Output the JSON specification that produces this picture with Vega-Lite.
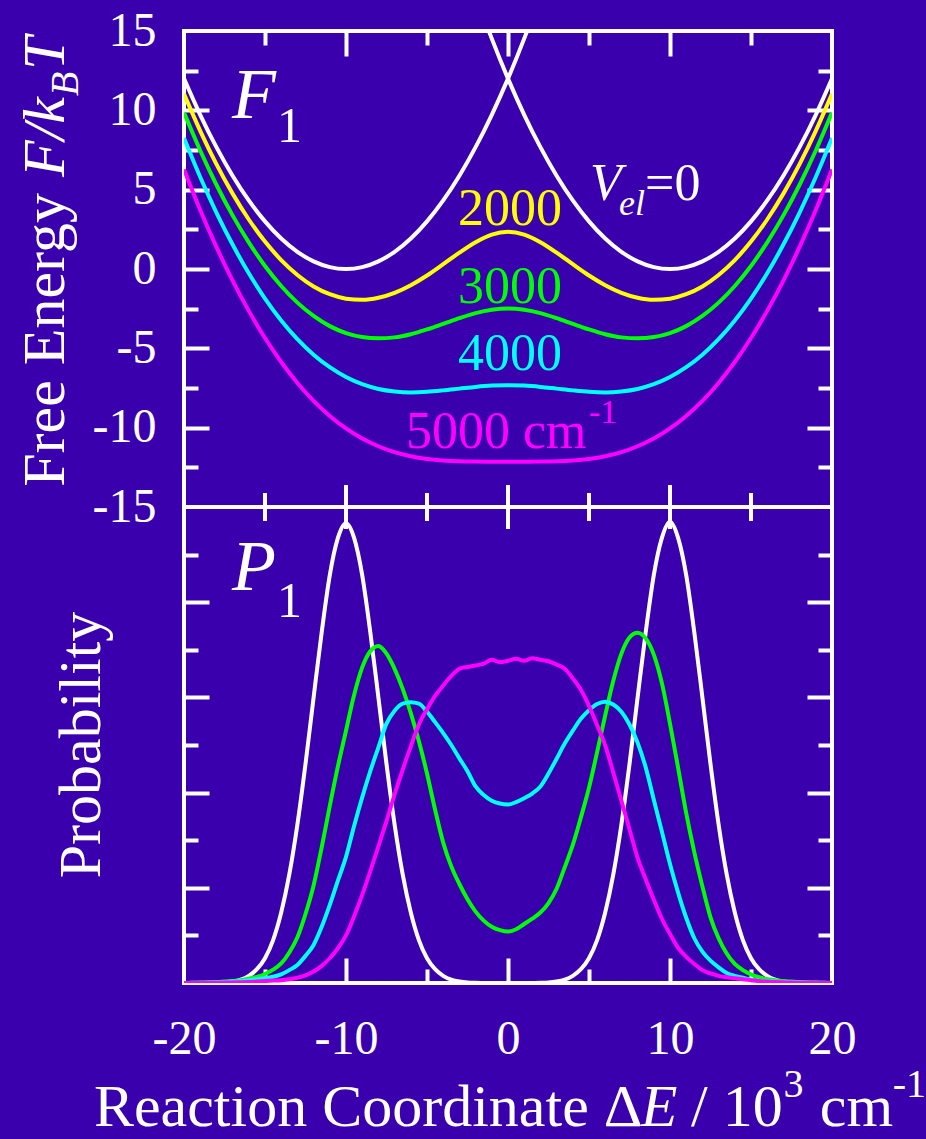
{
"$schema": "https://vega.github.io/schema/vega-lite/v6.json",
"autosize": "none",
"width": 648,
"height": 952,
"padding": {"left": 184, "top": 31, "right": 94, "bottom": 156},
"background": "#3a00ae",
"config": {
  "view": {"stroke": "#ffffff", "strokeWidth": 4},
  "axis": {"domain": false, "grid": false, "labels": false, "title": null, "tickColor": "#ffffff", "tickWidth": 4, "labelFont": "Liberation Serif", "labelFontSize": 48, "labelColor": "#ffffff", "labelFlush": false, "labelOverlap": false, "labelBound": false},
  "text": {"font": "Liberation Serif"}
},
"datasets": {
  "wf": [
    {"b":"a","x":-20,"v":12},{"b":"a","x":-19,"v":9.72},{"b":"a","x":-18,"v":7.68},{"b":"a","x":-17,"v":5.88},{"b":"a","x":-16,"v":4.32},{"b":"a","x":-15,"v":3},{"b":"a","x":-14,"v":1.92},{"b":"a","x":-13,"v":1.08},{"b":"a","x":-12,"v":0.48},{"b":"a","x":-11,"v":0.12},{"b":"a","x":-10,"v":0},{"b":"a","x":-9,"v":0.12},{"b":"a","x":-8,"v":0.48},{"b":"a","x":-7,"v":1.08},{"b":"a","x":-6,"v":1.92},{"b":"a","x":-5,"v":3},{"b":"a","x":-4,"v":4.32},{"b":"a","x":-3,"v":5.88},{"b":"a","x":-2,"v":7.68},{"b":"a","x":-1,"v":9.72},{"b":"a","x":0,"v":12},{"b":"a","x":1,"v":14.52},{"b":"a","x":1.18,"v":15},
    {"b":"b","x":-1.18,"v":15},{"b":"b","x":-1,"v":14.52},{"b":"b","x":0,"v":12},{"b":"b","x":1,"v":9.72},{"b":"b","x":2,"v":7.68},{"b":"b","x":3,"v":5.88},{"b":"b","x":4,"v":4.32},{"b":"b","x":5,"v":3},{"b":"b","x":6,"v":1.92},{"b":"b","x":7,"v":1.08},{"b":"b","x":8,"v":0.48},{"b":"b","x":9,"v":0.12},{"b":"b","x":10,"v":0},{"b":"b","x":11,"v":0.12},{"b":"b","x":12,"v":0.48},{"b":"b","x":13,"v":1.08},{"b":"b","x":14,"v":1.92},{"b":"b","x":15,"v":3},{"b":"b","x":16,"v":4.32},{"b":"b","x":17,"v":5.88},{"b":"b","x":18,"v":7.68},{"b":"b","x":19,"v":9.72},{"b":"b","x":20,"v":12}
  ],
  "cf": [
    {"x":-20,"v2000":11.04,"v3000":9.86,"v4000":8.26,"v5000":6.27},
    {"x":-19,"v2000":8.71,"v3000":7.47,"v4000":5.8,"v5000":3.72},
    {"x":-18,"v2000":6.61,"v3000":5.31,"v4000":3.56,"v5000":1.39},
    {"x":-17,"v2000":4.75,"v3000":3.38,"v4000":1.54,"v5000":-0.73},
    {"x":-16,"v2000":3.12,"v3000":1.68,"v4000":-0.27,"v5000":-2.64},
    {"x":-15,"v2000":1.73,"v3000":0.19,"v4000":-1.86,"v5000":-4.35},
    {"x":-14,"v2000":0.56,"v3000":-1.07,"v4000":-3.24,"v5000":-5.86},
    {"x":-13,"v2000":-0.38,"v3000":-2.12,"v4000":-4.42,"v5000":-7.18},
    {"x":-12,"v2000":-1.1,"v3000":-2.96,"v4000":-5.4,"v5000":-8.31},
    {"x":-11,"v2000":-1.59,"v3000":-3.6,"v4000":-6.19,"v5000":-9.26},
    {"x":-10,"v2000":-1.87,"v3000":-4.04,"v4000":-6.81,"v5000":-10.05},
    {"x":-9,"v2000":-1.94,"v3000":-4.29,"v4000":-7.26,"v5000":-10.68},
    {"x":-8,"v2000":-1.81,"v3000":-4.37,"v4000":-7.56,"v5000":-11.17},
    {"x":-7,"v2000":-1.5,"v3000":-4.31,"v4000":-7.72,"v5000":-11.54},
    {"x":-6,"v2000":-1.02,"v3000":-4.11,"v4000":-7.78,"v5000":-11.8},
    {"x":-5,"v2000":-0.41,"v3000":-3.81,"v4000":-7.74,"v5000":-11.97},
    {"x":-4,"v2000":0.3,"v3000":-3.46,"v4000":-7.65,"v5000":-12.07},
    {"x":-3,"v2000":1.03,"v3000":-3.1,"v4000":-7.54,"v5000":-12.12},
    {"x":-2,"v2000":1.69,"v3000":-2.78,"v4000":-7.43,"v5000":-12.14},
    {"x":-1,"v2000":2.17,"v3000":-2.57,"v4000":-7.35,"v5000":-12.15},
    {"x":0,"v2000":2.34,"v3000":-2.49,"v4000":-7.32,"v5000":-12.15},
    {"x":1,"v2000":2.17,"v3000":-2.57,"v4000":-7.35,"v5000":-12.15},
    {"x":2,"v2000":1.69,"v3000":-2.78,"v4000":-7.43,"v5000":-12.14},
    {"x":3,"v2000":1.03,"v3000":-3.1,"v4000":-7.54,"v5000":-12.12},
    {"x":4,"v2000":0.3,"v3000":-3.46,"v4000":-7.65,"v5000":-12.07},
    {"x":5,"v2000":-0.41,"v3000":-3.81,"v4000":-7.74,"v5000":-11.97},
    {"x":6,"v2000":-1.02,"v3000":-4.11,"v4000":-7.78,"v5000":-11.8},
    {"x":7,"v2000":-1.5,"v3000":-4.31,"v4000":-7.72,"v5000":-11.54},
    {"x":8,"v2000":-1.81,"v3000":-4.37,"v4000":-7.56,"v5000":-11.17},
    {"x":9,"v2000":-1.94,"v3000":-4.29,"v4000":-7.26,"v5000":-10.68},
    {"x":10,"v2000":-1.87,"v3000":-4.04,"v4000":-6.81,"v5000":-10.05},
    {"x":11,"v2000":-1.59,"v3000":-3.6,"v4000":-6.19,"v5000":-9.26},
    {"x":12,"v2000":-1.1,"v3000":-2.96,"v4000":-5.4,"v5000":-8.31},
    {"x":13,"v2000":-0.38,"v3000":-2.12,"v4000":-4.42,"v5000":-7.18},
    {"x":14,"v2000":0.56,"v3000":-1.07,"v4000":-3.24,"v5000":-5.86},
    {"x":15,"v2000":1.73,"v3000":0.19,"v4000":-1.86,"v5000":-4.35},
    {"x":16,"v2000":3.12,"v3000":1.68,"v4000":-0.27,"v5000":-2.64},
    {"x":17,"v2000":4.75,"v3000":3.38,"v4000":1.54,"v5000":-0.73},
    {"x":18,"v2000":6.61,"v3000":5.31,"v4000":3.56,"v5000":1.39},
    {"x":19,"v2000":8.71,"v3000":7.47,"v4000":5.8,"v5000":3.72},
    {"x":20,"v2000":11.04,"v3000":9.86,"v4000":8.26,"v5000":6.27}
  ],
  "pr": [
    {"x":-20,"v0":0,"v3000":0,"v4000":0,"v5000":0},
    {"x":-19.5,"v0":0,"v3000":0.0005,"v4000":0.0003,"v5000":0.0001},
    {"x":-19,"v0":0,"v3000":0.001,"v4000":0.0005,"v5000":0.0002},
    {"x":-18.5,"v0":0.0002,"v3000":0.0015,"v4000":0.0008,"v5000":0.0003},
    {"x":-18,"v0":0.0004,"v3000":0.002,"v4000":0.001,"v5000":0.0005},
    {"x":-17.5,"v0":0.001,"v3000":0.003,"v4000":0.002,"v5000":0.0008},
    {"x":-17,"v0":0.003,"v3000":0.004,"v4000":0.003,"v5000":0.001},
    {"x":-16.5,"v0":0.007,"v3000":0.006,"v4000":0.004,"v5000":0.0015},
    {"x":-16,"v0":0.015,"v3000":0.009,"v4000":0.006,"v5000":0.002},
    {"x":-15.5,"v0":0.029,"v3000":0.013,"v4000":0.008,"v5000":0.003},
    {"x":-15,"v0":0.052,"v3000":0.019,"v4000":0.01,"v5000":0.004},
    {"x":-14.5,"v0":0.09,"v3000":0.028,"v4000":0.013,"v5000":0.005},
    {"x":-14,"v0":0.148,"v3000":0.041,"v4000":0.018,"v5000":0.006},
    {"x":-13.5,"v0":0.228,"v3000":0.064,"v4000":0.027,"v5000":0.008},
    {"x":-13,"v0":0.333,"v3000":0.096,"v4000":0.038,"v5000":0.011},
    {"x":-12.5,"v0":0.46,"v3000":0.145,"v4000":0.057,"v5000":0.016},
    {"x":-12,"v0":0.6,"v3000":0.205,"v4000":0.08,"v5000":0.024},
    {"x":-11.5,"v0":0.737,"v3000":0.285,"v4000":0.118,"v5000":0.036},
    {"x":-11,"v0":0.857,"v3000":0.372,"v4000":0.164,"v5000":0.052},
    {"x":-10.5,"v0":0.935,"v3000":0.455,"v4000":0.215,"v5000":0.073},
    {"x":-10,"v0":0.966,"v3000":0.53,"v4000":0.265,"v5000":0.1},
    {"x":-9.5,"v0":0.935,"v3000":0.605,"v4000":0.33,"v5000":0.14},
    {"x":-9,"v0":0.857,"v3000":0.663,"v4000":0.39,"v5000":0.185},
    {"x":-8.5,"v0":0.737,"v3000":0.697,"v4000":0.445,"v5000":0.235},
    {"x":-8,"v0":0.6,"v3000":0.708,"v4000":0.495,"v5000":0.287},
    {"x":-7.5,"v0":0.46,"v3000":0.692,"v4000":0.545,"v5000":0.34},
    {"x":-7,"v0":0.333,"v3000":0.66,"v4000":0.572,"v5000":0.396},
    {"x":-6.5,"v0":0.228,"v3000":0.618,"v4000":0.587,"v5000":0.448},
    {"x":-6,"v0":0.148,"v3000":0.567,"v4000":0.59,"v5000":0.497},
    {"x":-5.5,"v0":0.09,"v3000":0.508,"v4000":0.587,"v5000":0.543},
    {"x":-5,"v0":0.052,"v3000":0.44,"v4000":0.57,"v5000":0.575},
    {"x":-4.5,"v0":0.029,"v3000":0.364,"v4000":0.548,"v5000":0.603},
    {"x":-4,"v0":0.015,"v3000":0.295,"v4000":0.525,"v5000":0.625},
    {"x":-3.5,"v0":0.007,"v3000":0.245,"v4000":0.5,"v5000":0.645},
    {"x":-3,"v0":0.003,"v3000":0.208,"v4000":0.472,"v5000":0.66},
    {"x":-2.5,"v0":0.001,"v3000":0.176,"v4000":0.445,"v5000":0.664},
    {"x":-2,"v0":0.0004,"v3000":0.15,"v4000":0.413,"v5000":0.667},
    {"x":-1.5,"v0":0.0002,"v3000":0.131,"v4000":0.395,"v5000":0.671},
    {"x":-1,"v0":0,"v3000":0.118,"v4000":0.383,"v5000":0.679},
    {"x":-0.5,"v0":0,"v3000":0.111,"v4000":0.377,"v5000":0.674},
    {"x":0,"v0":0,"v3000":0.108,"v4000":0.375,"v5000":0.677},
    {"x":0.5,"v0":0,"v3000":0.113,"v4000":0.38,"v5000":0.681},
    {"x":1,"v0":0,"v3000":0.124,"v4000":0.388,"v5000":0.677},
    {"x":1.5,"v0":0.0002,"v3000":0.135,"v4000":0.398,"v5000":0.682},
    {"x":2,"v0":0.0004,"v3000":0.148,"v4000":0.413,"v5000":0.679},
    {"x":2.5,"v0":0.001,"v3000":0.168,"v4000":0.44,"v5000":0.676},
    {"x":3,"v0":0.003,"v3000":0.198,"v4000":0.471,"v5000":0.669},
    {"x":3.5,"v0":0.007,"v3000":0.243,"v4000":0.503,"v5000":0.66},
    {"x":4,"v0":0.015,"v3000":0.29,"v4000":0.53,"v5000":0.64},
    {"x":4.5,"v0":0.029,"v3000":0.348,"v4000":0.555,"v5000":0.616},
    {"x":5,"v0":0.052,"v3000":0.41,"v4000":0.573,"v5000":0.582},
    {"x":5.5,"v0":0.09,"v3000":0.485,"v4000":0.586,"v5000":0.542},
    {"x":6,"v0":0.148,"v3000":0.562,"v4000":0.591,"v5000":0.499},
    {"x":6.5,"v0":0.228,"v3000":0.635,"v4000":0.585,"v5000":0.442},
    {"x":7,"v0":0.333,"v3000":0.692,"v4000":0.57,"v5000":0.383},
    {"x":7.5,"v0":0.46,"v3000":0.726,"v4000":0.543,"v5000":0.323},
    {"x":8,"v0":0.6,"v3000":0.736,"v4000":0.505,"v5000":0.263},
    {"x":8.5,"v0":0.737,"v3000":0.724,"v4000":0.453,"v5000":0.218},
    {"x":9,"v0":0.857,"v3000":0.69,"v4000":0.385,"v5000":0.175},
    {"x":9.5,"v0":0.935,"v3000":0.63,"v4000":0.318,"v5000":0.135},
    {"x":10,"v0":0.969,"v3000":0.545,"v4000":0.25,"v5000":0.103},
    {"x":10.5,"v0":0.935,"v3000":0.452,"v4000":0.19,"v5000":0.074},
    {"x":11,"v0":0.857,"v3000":0.357,"v4000":0.137,"v5000":0.055},
    {"x":11.5,"v0":0.737,"v3000":0.275,"v4000":0.094,"v5000":0.04},
    {"x":12,"v0":0.6,"v3000":0.203,"v4000":0.066,"v5000":0.027},
    {"x":12.5,"v0":0.46,"v3000":0.138,"v4000":0.047,"v5000":0.02},
    {"x":13,"v0":0.333,"v3000":0.094,"v4000":0.033,"v5000":0.015},
    {"x":13.5,"v0":0.228,"v3000":0.062,"v4000":0.021,"v5000":0.012},
    {"x":14,"v0":0.148,"v3000":0.04,"v4000":0.015,"v5000":0.01},
    {"x":14.5,"v0":0.09,"v3000":0.027,"v4000":0.011,"v5000":0.008},
    {"x":15,"v0":0.052,"v3000":0.018,"v4000":0.007,"v5000":0.006},
    {"x":15.5,"v0":0.029,"v3000":0.012,"v4000":0.005,"v5000":0.004},
    {"x":16,"v0":0.015,"v3000":0.008,"v4000":0.004,"v5000":0.003},
    {"x":16.5,"v0":0.007,"v3000":0.006,"v4000":0.003,"v5000":0.002},
    {"x":17,"v0":0.003,"v3000":0.004,"v4000":0.002,"v5000":0.0015},
    {"x":17.5,"v0":0.001,"v3000":0.003,"v4000":0.0015,"v5000":0.001},
    {"x":18,"v0":0.0004,"v3000":0.002,"v4000":0.001,"v5000":0.0007},
    {"x":18.5,"v0":0.0002,"v3000":0.0015,"v4000":0.0007,"v5000":0.0005},
    {"x":19,"v0":0,"v3000":0.001,"v4000":0.0005,"v5000":0.0003},
    {"x":19.5,"v0":0,"v3000":0.0005,"v4000":0.0003,"v5000":0.0001},
    {"x":20,"v0":0,"v3000":0,"v4000":0,"v5000":0}
  ],
  "lab": [
    {"t":"2000","s":"v2000","x":-3.09,"y":2.78},
    {"t":"3000","s":"v3000","x":-3.09,"y":-2.14},
    {"t":"4000","s":"v4000","x":-3.09,"y":-6.37},
    {"t":"5000 cm","s":"v5000","x":-6.3,"y":-11.28},
    {"t":"=0","s":"v0","x":8.46,"y":4.35}
  ]
},
"resolve": {"scale": {"y": "independent"}, "axis": {"x": "independent", "y": "independent"}},
"layer": [
  {
    "data": {"name": "wf"},
    "mark": {"type": "line", "color": "#ffffff", "strokeWidth": 4, "interpolate": "monotone", "clip": true},
    "encoding": {
      "x": {"field": "x", "type": "quantitative", "scale": {"domain": [-20, 20], "nice": false, "zero": false}, "axis": {"orient": "top", "values": [-10, 0, 10], "tickSize": -25}},
      "y": {"field": "v", "type": "quantitative", "scale": {"domain": [-15, 15], "range": [476, 0], "nice": false, "zero": false}, "axis": {"orient": "left", "values": [-15, -10, -5, 0, 5, 10, 15], "ticks": false, "labels": true, "labelPadding": 28, "labelExpr": "'' + datum.value"}},
      "detail": {"field": "b", "type": "nominal"}
    }
  },
  {
    "data": {"name": "cf"},
    "transform": [{"fold": ["v2000", "v3000", "v4000", "v5000"], "as": ["s", "v"]}],
    "mark": {"type": "line", "strokeWidth": 4, "interpolate": "monotone", "clip": true},
    "encoding": {
      "x": {"field": "x", "type": "quantitative", "scale": {"domain": [-20, 20], "nice": false, "zero": false}, "axis": {"orient": "top", "values": [-15, -5, 5, 15], "tickSize": -14}},
      "y": {"field": "v", "type": "quantitative", "scale": {"domain": [-15, 15], "range": [476, 0], "nice": false, "zero": false}, "axis": {"orient": "left", "values": [-10, -5, 0, 5, 10], "tickSize": -25}},
      "color": {"field": "s", "type": "nominal", "scale": {"domain": ["v0", "v2000", "v3000", "v4000", "v5000"], "range": ["#ffffff", "#ffff00", "#00ff00", "#00ffff", "#ff00ff"]}, "legend": null}
    }
  },
  {
    "data": {"name": "lab"},
    "mark": {"type": "text", "font": "Liberation Serif", "fontSize": 52, "align": "left", "baseline": "alphabetic"},
    "encoding": {
      "x": {"field": "x", "type": "quantitative", "scale": {"domain": [-20, 20], "nice": false, "zero": false}, "axis": {"orient": "bottom", "values": [-10, 0, 10], "tickSize": -25}},
      "y": {"field": "y", "type": "quantitative", "scale": {"domain": [-15, 15], "range": [476, 0], "nice": false, "zero": false}, "axis": {"orient": "left", "values": [-12.5, -7.5, -2.5, 2.5, 7.5, 12.5], "tickSize": -14}},
      "color": {"field": "s", "type": "nominal", "scale": {"domain": ["v0", "v2000", "v3000", "v4000", "v5000"], "range": ["#ffffff", "#ffff00", "#00ff00", "#00ffff", "#ff00ff"]}, "legend": null},
      "text": {"field": "t"}
    }
  },
  {
    "data": {"values": [{"t": "F", "x": -17.04, "y": 9.52}]},
    "mark": {"type": "text", "font": "Liberation Serif", "fontStyle": "italic", "fontSize": 72, "align": "left", "baseline": "alphabetic", "color": "#ffffff"},
    "encoding": {
      "x": {"field": "x", "type": "quantitative", "scale": {"domain": [-20, 20], "nice": false, "zero": false}, "axis": {"orient": "bottom", "values": [-15, -5, 5, 15], "tickSize": -14}},
      "y": {"field": "y", "type": "quantitative", "scale": {"domain": [-15, 15], "range": [476, 0], "nice": false, "zero": false}, "axis": {"orient": "right", "values": [-10, -5, 0, 5, 10], "tickSize": -25}},
      "text": {"field": "t"}
    }
  },
  {
    "data": {"values": [{"t": "1", "x": -14.26, "y": 8.0}]},
    "mark": {"type": "text", "font": "Liberation Serif", "fontSize": 50, "align": "left", "baseline": "alphabetic", "color": "#ffffff"},
    "encoding": {
      "x": {"field": "x", "type": "quantitative", "scale": {"domain": [-20, 20], "nice": false, "zero": false}, "axis": {"orient": "bottom", "values": [-20, -10, 0, 10, 20], "ticks": false, "labels": true, "labelPadding": 32, "labelExpr": "'' + datum.value"}},
      "y": {"field": "y", "type": "quantitative", "scale": {"domain": [-15, 15], "range": [476, 0], "nice": false, "zero": false}, "axis": {"orient": "right", "values": [-12.5, -7.5, -2.5, 2.5, 7.5, 12.5], "tickSize": -14}},
      "text": {"field": "t"}
    }
  },
  {
    "data": {"values": [{"t": "V", "x": 5.06, "y": 4.35}]},
    "mark": {"type": "text", "font": "Liberation Serif", "fontStyle": "italic", "fontSize": 52, "align": "left", "baseline": "alphabetic", "color": "#ffffff"},
    "encoding": {
      "x": {"field": "x", "type": "quantitative", "scale": {"domain": [-20, 20], "nice": false, "zero": false}, "axis": null},
      "y": {"field": "y", "type": "quantitative", "scale": {"domain": [-15, 15], "range": [476, 0], "nice": false, "zero": false}, "axis": null},
      "text": {"field": "t"}
    }
  },
  {
    "data": {"values": [{"t": "el", "x": 6.85, "y": 3.4}]},
    "mark": {"type": "text", "font": "Liberation Serif", "fontStyle": "italic", "fontSize": 36, "align": "left", "baseline": "alphabetic", "color": "#ffffff"},
    "encoding": {
      "x": {"field": "x", "type": "quantitative", "scale": {"domain": [-20, 20], "nice": false, "zero": false}, "axis": null},
      "y": {"field": "y", "type": "quantitative", "scale": {"domain": [-15, 15], "range": [476, 0], "nice": false, "zero": false}, "axis": null},
      "text": {"field": "t"}
    }
  },
  {
    "data": {"values": [{"t": "-1", "x": 5.0, "y": -9.71}]},
    "mark": {"type": "text", "font": "Liberation Serif", "fontSize": 34, "align": "left", "baseline": "alphabetic", "color": "#ff00ff"},
    "encoding": {
      "x": {"field": "x", "type": "quantitative", "scale": {"domain": [-20, 20], "nice": false, "zero": false}, "axis": null},
      "y": {"field": "y", "type": "quantitative", "scale": {"domain": [-15, 15], "range": [476, 0], "nice": false, "zero": false}, "axis": null},
      "text": {"field": "t"}
    }
  },
  {
    "data": {"values": [{"t": "Free Energy", "x": -27.41, "y": -13.73}]},
    "mark": {"type": "text", "font": "Liberation Serif", "fontSize": 60, "angle": 270, "align": "left", "baseline": "alphabetic", "color": "#ffffff"},
    "encoding": {
      "x": {"field": "x", "type": "quantitative", "scale": {"domain": [-20, 20], "nice": false, "zero": false}, "axis": null},
      "y": {"field": "y", "type": "quantitative", "scale": {"domain": [-15, 15], "range": [476, 0], "nice": false, "zero": false}, "axis": null},
      "text": {"field": "t"}
    }
  },
  {
    "data": {"values": [{"t": "F/k", "x": -27.41, "y": 5.8}, {"t": "T", "x": -27.41, "y": 12.54}]},
    "mark": {"type": "text", "font": "Liberation Serif", "fontStyle": "italic", "fontSize": 60, "angle": 270, "align": "left", "baseline": "alphabetic", "color": "#ffffff"},
    "encoding": {
      "x": {"field": "x", "type": "quantitative", "scale": {"domain": [-20, 20], "nice": false, "zero": false}, "axis": null},
      "y": {"field": "y", "type": "quantitative", "scale": {"domain": [-15, 15], "range": [476, 0], "nice": false, "zero": false}, "axis": null},
      "text": {"field": "t"}
    }
  },
  {
    "data": {"values": [{"t": "B", "x": -26.54, "y": 10.9}]},
    "mark": {"type": "text", "font": "Liberation Serif", "fontStyle": "italic", "fontSize": 40, "angle": 270, "align": "left", "baseline": "alphabetic", "color": "#ffffff"},
    "encoding": {
      "x": {"field": "x", "type": "quantitative", "scale": {"domain": [-20, 20], "nice": false, "zero": false}, "axis": null},
      "y": {"field": "y", "type": "quantitative", "scale": {"domain": [-15, 15], "range": [476, 0], "nice": false, "zero": false}, "axis": null},
      "text": {"field": "t"}
    }
  },
  {
    "data": {"values": [{}]},
    "mark": {"type": "rule", "color": "#ffffff", "strokeWidth": 4},
    "encoding": {
      "y": {"datum": -15, "type": "quantitative", "scale": {"domain": [-15, 15], "range": [476, 0], "nice": false, "zero": false}, "axis": null}
    }
  },
  {
    "data": {"values": [{"x": -10}, {"x": 0}, {"x": 10}]},
    "mark": {"type": "tick", "orient": "vertical", "size": 44, "thickness": 4, "color": "#ffffff", "opacity": 1},
    "encoding": {
      "x": {"field": "x", "type": "quantitative", "scale": {"domain": [-20, 20], "nice": false, "zero": false}, "axis": null},
      "y": {"datum": -15, "type": "quantitative", "scale": {"domain": [-15, 15], "range": [476, 0], "nice": false, "zero": false}, "axis": null}
    }
  },
  {
    "data": {"values": [{"x": -15}, {"x": -5}, {"x": 5}, {"x": 15}]},
    "mark": {"type": "tick", "orient": "vertical", "size": 28, "thickness": 4, "color": "#ffffff", "opacity": 1},
    "encoding": {
      "x": {"field": "x", "type": "quantitative", "scale": {"domain": [-20, 20], "nice": false, "zero": false}, "axis": null},
      "y": {"datum": -15, "type": "quantitative", "scale": {"domain": [-15, 15], "range": [476, 0], "nice": false, "zero": false}, "axis": null}
    }
  },
  {
    "data": {"name": "pr"},
    "transform": [{"fold": ["v0", "v3000", "v4000", "v5000"], "as": ["s", "p"]}],
    "mark": {"type": "line", "strokeWidth": 4, "interpolate": "monotone", "clip": true},
    "encoding": {
      "x": {"field": "x", "type": "quantitative", "scale": {"domain": [-20, 20], "nice": false, "zero": false}, "axis": null},
      "y": {"field": "p", "type": "quantitative", "scale": {"domain": [0, 1], "range": [952, 476], "nice": false, "zero": false}, "axis": {"orient": "left", "values": [0.2, 0.4, 0.6, 0.8], "tickSize": -25}},
      "color": {"field": "s", "type": "nominal", "scale": {"domain": ["v0", "v2000", "v3000", "v4000", "v5000"], "range": ["#ffffff", "#ffff00", "#00ff00", "#00ffff", "#ff00ff"]}, "legend": null}
    }
  },
  {
    "data": {"values": [{"t": "P", "x": -17.04, "y": 0.826}]},
    "mark": {"type": "text", "font": "Liberation Serif", "fontStyle": "italic", "fontSize": 72, "align": "left", "baseline": "alphabetic", "color": "#ffffff"},
    "encoding": {
      "x": {"field": "x", "type": "quantitative", "scale": {"domain": [-20, 20], "nice": false, "zero": false}, "axis": null},
      "y": {"field": "y", "type": "quantitative", "scale": {"domain": [0, 1], "range": [952, 476], "nice": false, "zero": false}, "axis": {"orient": "left", "values": [0.1, 0.3, 0.5, 0.7, 0.9], "tickSize": -14}},
      "text": {"field": "t"}
    }
  },
  {
    "data": {"values": [{"t": "1", "x": -14.26, "y": 0.769}]},
    "mark": {"type": "text", "font": "Liberation Serif", "fontSize": 50, "align": "left", "baseline": "alphabetic", "color": "#ffffff"},
    "encoding": {
      "x": {"field": "x", "type": "quantitative", "scale": {"domain": [-20, 20], "nice": false, "zero": false}, "axis": null},
      "y": {"field": "y", "type": "quantitative", "scale": {"domain": [0, 1], "range": [952, 476], "nice": false, "zero": false}, "axis": {"orient": "right", "values": [0.2, 0.4, 0.6, 0.8], "tickSize": -25}},
      "text": {"field": "t"}
    }
  },
  {
    "data": {"values": [{"t": "Probability", "x": -25.19, "y": 0.5}]},
    "mark": {"type": "text", "font": "Liberation Serif", "fontSize": 60, "angle": 270, "align": "center", "baseline": "alphabetic", "color": "#ffffff"},
    "encoding": {
      "x": {"field": "x", "type": "quantitative", "scale": {"domain": [-20, 20], "nice": false, "zero": false}, "axis": null},
      "y": {"field": "y", "type": "quantitative", "scale": {"domain": [0, 1], "range": [952, 476], "nice": false, "zero": false}, "axis": {"orient": "right", "values": [0.1, 0.3, 0.5, 0.7, 0.9], "tickSize": -14}},
      "text": {"field": "t"}
    }
  },
  {
    "data": {"values": [{"t": "Reaction Coordinate Δ", "x": -25.56, "y": -0.3}, {"t": "/ 10", "x": 11.3, "y": -0.3}, {"t": "cm", "x": 19.25, "y": -0.3}]},
    "mark": {"type": "text", "font": "Liberation Serif", "fontSize": 60, "align": "left", "baseline": "alphabetic", "color": "#ffffff"},
    "encoding": {
      "x": {"field": "x", "type": "quantitative", "scale": {"domain": [-20, 20], "nice": false, "zero": false}, "axis": null},
      "y": {"field": "y", "type": "quantitative", "scale": {"domain": [0, 1], "range": [952, 476], "nice": false, "zero": false}, "axis": null},
      "text": {"field": "t"}
    }
  },
  {
    "data": {"values": [{"t": "E", "x": 8.2, "y": -0.3}]},
    "mark": {"type": "text", "font": "Liberation Serif", "fontStyle": "italic", "fontSize": 60, "align": "left", "baseline": "alphabetic", "color": "#ffffff"},
    "encoding": {
      "x": {"field": "x", "type": "quantitative", "scale": {"domain": [-20, 20], "nice": false, "zero": false}, "axis": null},
      "y": {"field": "y", "type": "quantitative", "scale": {"domain": [0, 1], "range": [952, 476], "nice": false, "zero": false}, "axis": null},
      "text": {"field": "t"}
    }
  },
  {
    "data": {"values": [{"t": "3", "x": 17.0, "y": -0.239}, {"t": "-1", "x": 23.75, "y": -0.239}]},
    "mark": {"type": "text", "font": "Liberation Serif", "fontSize": 40, "align": "left", "baseline": "alphabetic", "color": "#ffffff"},
    "encoding": {
      "x": {"field": "x", "type": "quantitative", "scale": {"domain": [-20, 20], "nice": false, "zero": false}, "axis": null},
      "y": {"field": "y", "type": "quantitative", "scale": {"domain": [0, 1], "range": [952, 476], "nice": false, "zero": false}, "axis": null},
      "text": {"field": "t"}
    }
  }
]
}
